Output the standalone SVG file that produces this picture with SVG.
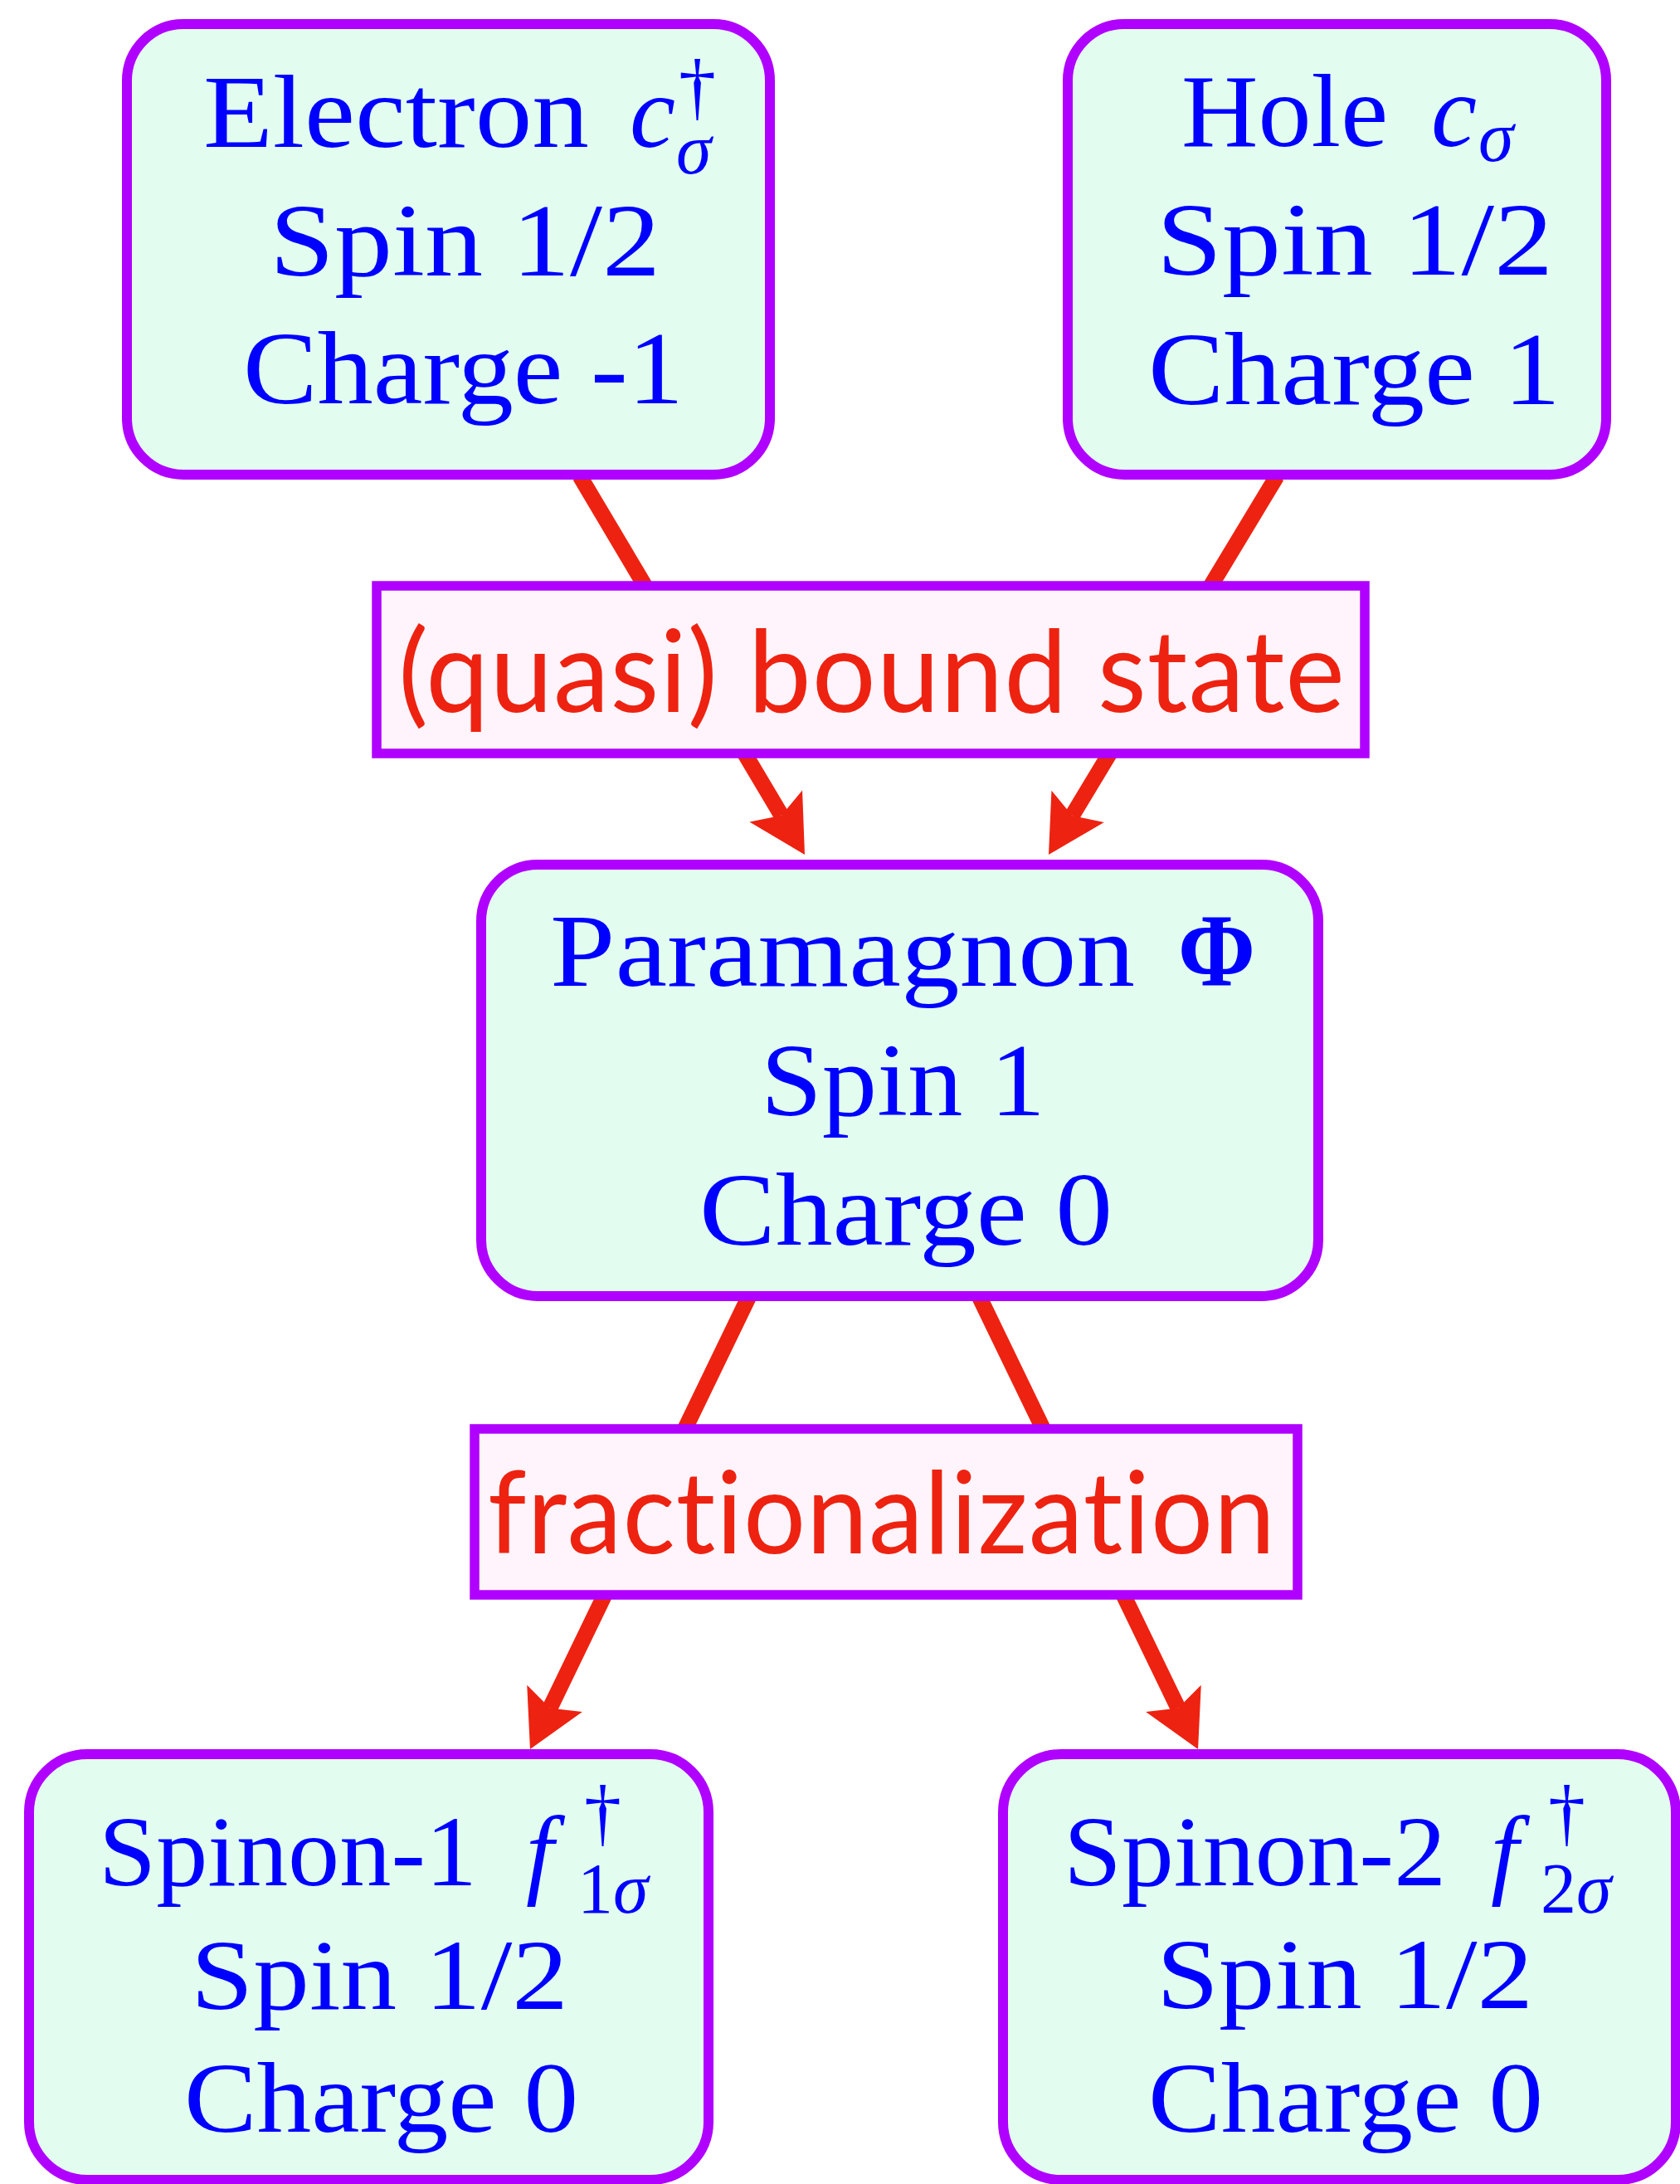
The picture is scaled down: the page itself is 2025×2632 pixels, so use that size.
<svg xmlns="http://www.w3.org/2000/svg" width="2025" height="2632" viewBox="0 0 2025 2632">
<style>
.node{fill:#e2fdf0;stroke:#b000ff;stroke-width:12}
.lab{fill:#fff4fb;stroke:#b000ff;stroke-width:11.5}
.t{font-family:"Liberation Serif","DejaVu Serif",serif;font-size:124px;fill:#0000ff}
.tb{font-size:120px}
.it{font-style:italic}
.sup{font-size:90px;font-style:normal}
.sub{font-size:86px}
.lt{font-family:Lato,"Open Sans","Liberation Sans",sans-serif;font-size:138px;fill:#ee2211;letter-spacing:1px;font-variant-ligatures:none;font-feature-settings:"liga" 0,"dlig" 0}
.conn{stroke:#ee2211;stroke-width:19;fill:none}
</style>
<defs>
<marker id="ah" viewBox="-15 -40 72 80" refX="0" refY="0" markerWidth="72" markerHeight="80" markerUnits="userSpaceOnUse" orient="auto">
<path d="M55,0 L-13,-37 L0,0 L-13,37 Z" fill="#ee2211"/>
</marker>
</defs>
<rect width="2025" height="2632" fill="#ffffff"/>
<g id="connectors">
<line class="conn" x1="699" y1="574" x2="941.9" y2="982.7" marker-end="url(#ah)"/>
<line class="conn" x1="1539" y1="574" x2="1292.4" y2="982.9" marker-end="url(#ah)"/>
<line class="conn" x1="903" y1="1562" x2="662.9" y2="2058.5" marker-end="url(#ah)"/>
<line class="conn" x1="1180" y1="1562" x2="1420.1" y2="2058.5" marker-end="url(#ah)"/>
</g>
<g id="electron">
<rect class="node" x="153" y="29" width="775" height="543" rx="68" ry="68"/>
<text class="t" x="245" y="177" textLength="465" lengthAdjust="spacingAndGlyphs">Electron</text>
<text class="t it" x="759" y="177">c<tspan class="sup" x="818" y="134">†</tspan><tspan class="sub" x="815" y="209">σ</tspan></text>
<text class="t" x="325" y="332" textLength="471" lengthAdjust="spacingAndGlyphs">Spin 1/2</text>
<text class="t" x="293" y="486" textLength="531" lengthAdjust="spacingAndGlyphs">Charge -1</text>
</g>
<g id="hole">
<rect class="node" x="1287" y="29" width="649" height="543" rx="68" ry="68"/>
<text class="t" x="1424" y="176" textLength="249" lengthAdjust="spacingAndGlyphs">Hole</text>
<text class="t it" x="1725" y="176">c<tspan class="sub" x="1782" y="194">σ</tspan></text>
<text class="t" x="1394" y="331" textLength="478" lengthAdjust="spacingAndGlyphs">Spin 1/2</text>
<text class="t" x="1384" y="487" textLength="497" lengthAdjust="spacingAndGlyphs">Charge 1</text>
</g>
<g id="bound-state">
<rect class="lab" x="454" y="706" width="1191" height="202"/>
<text class="lt" x="480" y="858" textLength="1142" lengthAdjust="spacingAndGlyphs">(quasi) bound state</text>
</g>
<g id="paramagnon">
<rect class="node" x="580" y="1042" width="1009" height="520" rx="68" ry="68"/>
<text class="t" x="663" y="1188" textLength="705" lengthAdjust="spacingAndGlyphs">Paramagnon</text>
<text class="t" x="1420" y="1188" font-weight="bold" font-size="132" textLength="93" lengthAdjust="spacingAndGlyphs">Φ</text>
<text class="t" x="917" y="1344" textLength="343" lengthAdjust="spacingAndGlyphs">Spin 1</text>
<text class="t" x="843" y="1500" textLength="498" lengthAdjust="spacingAndGlyphs">Charge 0</text>
</g>
<g id="fractionalization">
<rect class="lab" x="572" y="1722" width="992" height="200"/>
<text class="lt" x="588" y="1872" textLength="950" lengthAdjust="spacingAndGlyphs">fractionalization</text>
</g>
<g id="spinon-1">
<rect class="node" x="35" y="2114" width="819" height="513" rx="70" ry="70"/>
<text class="t tb" x="119" y="2272" textLength="456" lengthAdjust="spacingAndGlyphs">Spinon-1</text>
<text class="t tb it" x="634" y="2272">f<tspan class="sup" x="704" y="2214">†</tspan><tspan class="sub" x="696" y="2305" font-style="normal">1</tspan><tspan class="sub">σ</tspan></text>
<text class="t tb" x="230" y="2421" textLength="455" lengthAdjust="spacingAndGlyphs">Spin 1/2</text>
<text class="t tb" x="222" y="2569" textLength="475" lengthAdjust="spacingAndGlyphs">Charge 0</text>
</g>
<g id="spinon-2">
<rect class="node" x="1209" y="2114" width="811" height="513" rx="70" ry="70"/>
<text class="t tb" x="1282" y="2272" textLength="461" lengthAdjust="spacingAndGlyphs">Spinon-2</text>
<text class="t tb it" x="1797" y="2272">f<tspan class="sup" x="1866" y="2214">†</tspan><tspan class="sub" x="1857" y="2305" font-style="normal">2</tspan><tspan class="sub">σ</tspan></text>
<text class="t tb" x="1394" y="2420" textLength="454" lengthAdjust="spacingAndGlyphs">Spin 1/2</text>
<text class="t tb" x="1384" y="2569" textLength="476" lengthAdjust="spacingAndGlyphs">Charge 0</text>
</g>
</svg>
